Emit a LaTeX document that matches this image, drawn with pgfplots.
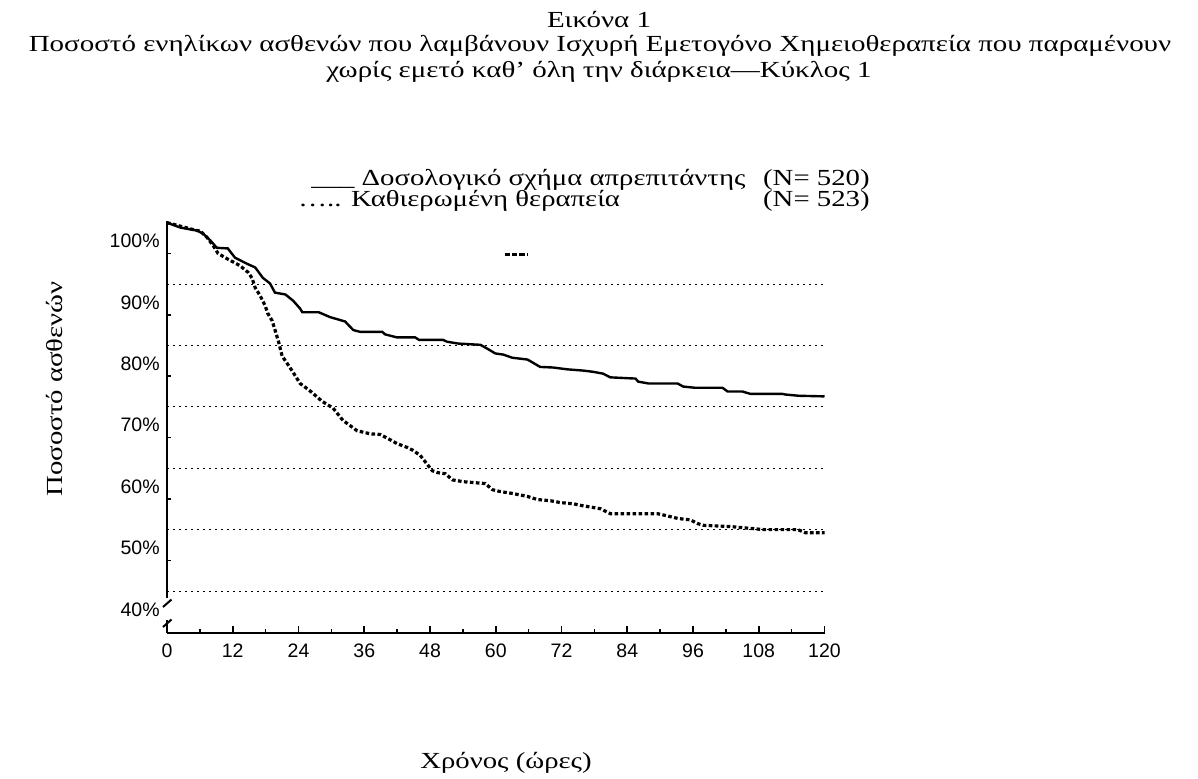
\documentclass[border=0pt]{standalone}
\usepackage{pgfplots}
\pgfplotsset{compat=1.18}
\usepackage{fontspec}
\setmainfont{Liberation Serif}
\newfontfamily\arialf{Liberation Sans}

\pgfplotstableread{
x y
0 100
2.4 99.2
5.5 98.7
6.6 98.2
7.9 97.1
9.1 95.9
11.1 95.8
12.4 94.3
14.6 93.3
16.1 92.7
17.5 91.0
18.8 90.1
19.7 88.6
21.6 88.3
23.0 87.3
24.3 86.0
24.7 85.4
27.7 85.4
29.8 84.6
32.5 83.9
34.0 82.5
35.3 82.2
39.3 82.2
39.8 81.8
42.0 81.3
45.3 81.3
46.0 80.9
50.4 80.9
51.1 80.6
53.2 80.3
57.2 80.1
58.4 79.5
59.9 78.7
61.4 78.5
63.0 78.0
65.8 77.7
68.1 76.5
70.5 76.4
73.1 76.1
76.0 75.9
77.8 75.7
79.6 75.4
80.9 74.8
85.5 74.6
86.0 74.1
87.9 73.8
93.2 73.8
94.2 73.3
96.4 73.1
101.4 73.1
102.3 72.5
105.0 72.5
106.5 72.1
112.3 72.1
112.9 72.0
115.3 71.8
120 71.7
}\aprep

\pgfplotstableread{
x y
0 100
5.5 98.7
6.0 98.7
7.3 97.6
8.4 96.3
9.3 95.0
10.6 94.3
13.3 93.0
14.8 91.9
15.5 91.0
16.1 89.4
17.0 88.1
17.9 86.5
18.4 85.2
19.2 84.0
20.3 80.8
21.0 78.3
22.8 75.9
24.3 73.8
26.1 72.6
28.3 70.9
30.3 69.8
32.1 67.8
34.7 66.1
37.1 65.6
38.9 65.5
40.4 64.8
42.0 64.0
43.8 63.4
44.9 62.9
46.2 62.1
47.7 60.4
48.4 59.6
49.3 59.3
50.8 59.1
52.1 58.1
54.1 57.8
58.1 57.5
59.4 56.5
60.8 56.2
63.0 55.9
65.8 55.4
67.6 54.9
70.0 54.7
71.8 54.4
74.2 54.2
75.8 53.9
77.8 53.6
79.1 53.4
80.9 52.6
89.5 52.6
91.0 52.3
93.3 51.8
95.5 51.6
96.8 51.0
97.9 50.7
102.8 50.5
105.2 50.3
106.5 50.2
108.9 50.0
115.1 50.0
116.5 49.5
120 49.5
}\standard

\newcommand\tf{\fontsize{11.5}{13}\selectfont}
\newcommand\ws[1]{\scalebox{1.25}[1]{#1}}
\newcommand\wt[1]{\scalebox{1.26}[1]{#1}}

\begin{document}
\begin{tikzpicture}
\path[use as bounding box] (0,0) rectangle (599pt,389pt);
\begin{axis}[
  at={(83.5pt,72.5pt)}, anchor=south west,
  scale only axis, width=328.75pt, height=206.1pt,
  xmin=0, xmax=120, ymin=33.16, ymax=100.3,
  axis x line=bottom, axis y line=left,
  axis line style={-, line width=1pt, black},
  xtick={0,12,...,120},
  xticklabels={0,12,24,36,48,60,72,84,96,108,120},
  minor xtick={6,18,...,114},
  ytick={97,87,77,67,57,47,37},
  yticklabels={100\%,90\%,80\%,70\%,60\%,50\%,40\%},
  minor ytick={45,55,...,95},
  every major y tick/.append style={draw=none},
  tick align=inside,
  major tick length=3.5pt, minor tick length=2pt,
  tick style={black, line width=0.8pt},
  extra y ticks={40,50,60,70,80,90},
  extra y tick labels={},
  extra y tick style={grid=major, tick style={draw=none}},
  major grid style={black, line width=0.5pt, dash pattern=on 0.8pt off 2.2pt},
  xticklabel style={font=\arialf\fontsize{9.75}{11}\selectfont, anchor=north, inner sep=0pt, yshift=-5pt},
  yticklabel style={font=\arialf\fontsize{9.75}{11}\selectfont, anchor=east, inner sep=0pt, xshift=-3.5pt},
  clip=false,
]
\addplot[black, line width=1.2pt] table[x=x,y=y] {\aprep};
\addplot[black, line width=1.6pt, dash pattern=on 1.8pt off 1.2pt] table[x=x,y=y] {\standard};
\end{axis}
\begin{scope}[x=0.5pt,y=-0.5pt,shift={(0pt,389pt)}]
  \fill[white] (164,597.5) rectangle (170,619.5);
  \draw[line width=1pt] (163,607) -- (171.5,599.5);
  \draw[line width=1pt] (163,627) -- (171.5,619.5);
  \draw[line width=1.5pt, dash pattern=on 2.6pt off 1pt] (505,254) -- (527,254);
  \node[font=\tf, inner sep=0pt] at (599,20) {\wt{Εικόνα 1}};
  \node[font=\tf, inner sep=0pt] at (600,46) {\wt{Ποσοστό ενηλίκων ασθενών που λαμβάνουν Ισχυρή Εμετογόνο Χημειοθεραπεία που παραμένουν}};
  \node[font=\tf, inner sep=0pt] at (599,72) {\wt{χωρίς εμετό καθ’ όλη την διάρκεια—Κύκλος 1}};
  \node[font=\tf, inner sep=0pt, anchor=west] at (311,180) {\ws{\_\_\_ Δοσολογικό σχήμα απρεπιτάντης}};
  \node[font=\tf, inner sep=0pt, anchor=east] at (870,180) {\ws{(N= 520)}};
  \node[font=\tf, inner sep=0pt, anchor=west] at (298,201) {\ws{….. Καθιερωμένη θεραπεία}};
  \node[font=\tf, inner sep=0pt, anchor=east] at (870,201) {\ws{(N= 523)}};
  \node[font=\tf, inner sep=0pt, rotate=90] at (55,389) {\ws{Ποσοστό ασθενών}};
  \node[font=\tf, inner sep=0pt] at (506,763) {\ws{Χρόνος (ώρες)}};
\end{scope}
\end{tikzpicture}
\end{document}
